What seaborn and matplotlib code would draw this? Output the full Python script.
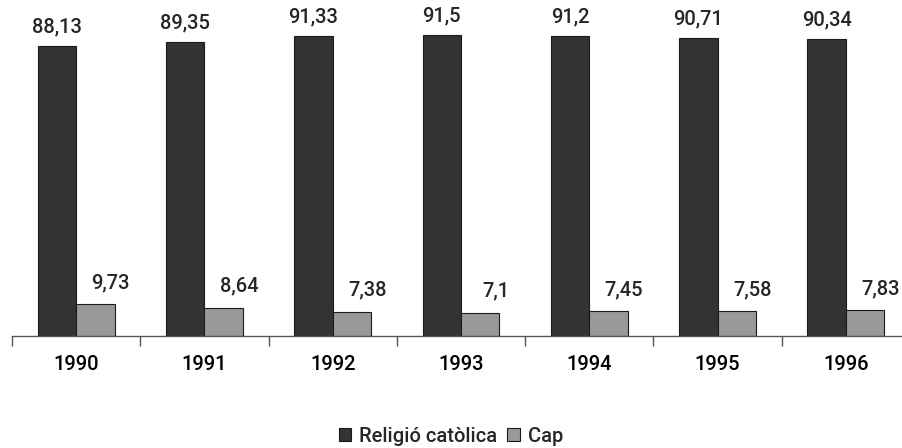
import matplotlib
matplotlib.use("Agg")
import matplotlib.pyplot as plt
import seaborn as sns
import pandas as pd
from matplotlib.patches import Patch
from matplotlib.ticker import FixedLocator

years = ["1990", "1991", "1992", "1993", "1994", "1995", "1996"]
catolica = [88.13, 89.35, 91.33, 91.5, 91.2, 90.71, 90.34]
cap = [9.73, 8.64, 7.38, 7.1, 7.45, 7.58, 7.83]
series = ["Religió catòlica", "Cap"]
colors = ["#333333", "#999999"]

df = pd.DataFrame({
    "year": years * 2,
    "value": catolica + cap,
    "serie": [series[0]] * len(years) + [series[1]] * len(years),
})

sns.set_style("white")
plt.rcParams["font.family"] = ["Roboto", "DejaVu Sans"]
FW = "medium"
FS = 14.5

fig = plt.figure(figsize=(9.02, 4.48), dpi=100)
ax = fig.add_axes([12 / 902, 112 / 448, 898 / 902, 329 / 448])

sns.barplot(data=df, x="year", y="value", hue="serie", palette=colors,
            width=0.6, edgecolor="#1a1a1a", linewidth=0.8, ax=ax, legend=False)

ax.set_xlim(-0.5, len(years) - 0.5)
ax.set_ylim(0, 100)
ax.set_xlabel("")
ax.set_ylabel("")
ax.set_yticks([])
for s in ["left", "top", "right"]:
    ax.spines[s].set_visible(False)
ax.spines["bottom"].set_color("#555555")
ax.spines["bottom"].set_linewidth(1.0)

ax.tick_params(axis="x", which="major", bottom=False, length=0, pad=14, labelsize=FS, colors="black")
for lab in ax.get_xticklabels():
    lab.set_fontweight(FW)
ax.xaxis.set_minor_locator(FixedLocator([i - 0.5 for i in range(len(years) + 1)]))
ax.tick_params(axis="x", which="minor", bottom=True, length=7, width=1.0, color="#555555", direction="out")

def fmt(v):
    return f"{v:g}".replace(".", ",")

for i, v in enumerate(catolica):
    ax.text(i - 0.15, v + 5.7, fmt(v), ha="center", va="center", fontsize=FS, fontweight=FW)
for i, v in enumerate(cap):
    ax.text(i + 0.27, v + 6.5, fmt(v), ha="center", va="center", fontsize=FS, fontweight=FW)

handles = [Patch(facecolor=c, edgecolor="#1a1a1a", linewidth=0.8) for c in colors]
leg = fig.legend(handles, series, loc="center", bbox_to_anchor=(0.5, 1 - 436 / 448),
                 ncol=2, frameon=False, fontsize=FS, handlelength=0.6, handleheight=0.6,
                 handletextpad=0.4, columnspacing=0.5)
for t in leg.get_texts():
    t.set_fontweight(FW)

fig.savefig("out.png", dpi=100)
